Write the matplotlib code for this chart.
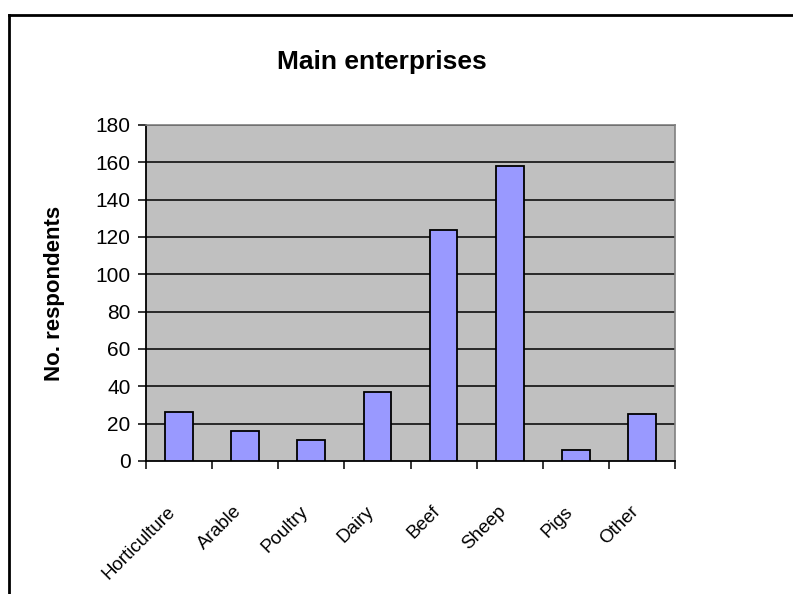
import matplotlib
matplotlib.use("Agg")
import matplotlib.pyplot as plt
from matplotlib.lines import Line2D
from matplotlib.transforms import ScaledTranslation
import numpy as np

# ── Data ──
categories = ["Horticulture", "Arable", "Poultry", "Dairy", "Beef", "Sheep", "Pigs", "Other"]
respondents = [26, 16, 11, 37, 124, 158, 6, 25]
y_ticks = list(range(0, 181, 20))

plt.rcParams['font.family'] = ['Liberation Sans', 'DejaVu Sans']

fig = plt.figure(figsize=(7.93, 5.94), dpi=100)
ax = fig.add_axes([146/793, 1 - 461/594, 529/793, 336/594])
ax.set_facecolor('#C0C0C0')

x = np.arange(len(categories))
ax.bar(x, respondents, width=0.42, color='#9999FF', edgecolor='black',
       linewidth=1.3, zorder=3)

# gridlines
for t in y_ticks[1:]:
    ax.axhline(t, color='black', linewidth=1.1, zorder=1)

ax.set_xlim(-0.5, len(categories) - 0.5)
ax.set_ylim(0, 180)
ax.set_yticks(y_ticks)
ax.tick_params(axis='y', labelsize=15, length=6, width=1.1, direction='out', pad=5)

# x ticks at category boundaries, labels at centres
ax.set_xticks(np.arange(-0.5, len(categories), 1.0))
ax.set_xticklabels([])
ax.set_xticks(x, minor=True)
ax.set_xticklabels(categories, minor=True, rotation=45, ha='right',
                   va='center', rotation_mode='anchor', fontsize=13.5)
ax.tick_params(axis='x', which='major', length=6, width=1.1, direction='out')
ax.tick_params(axis='x', which='minor', length=0, pad=0)
off = ScaledTranslation(-0.06, -0.48, fig.dpi_scale_trans)
for lab in ax.get_xticklabels(minor=True):
    lab.set_transform(lab.get_transform() + off)

for s in ['top', 'right']:
    ax.spines[s].set_color('#808080')
    ax.spines[s].set_linewidth(1.2)
for s in ['left', 'bottom']:
    ax.spines[s].set_color('black')
    ax.spines[s].set_linewidth(1.3)

ax.set_ylabel('No. respondents', fontsize=16, fontweight='bold', labelpad=22)

fig.text(382/793, 1 - 69/594, 'Main enterprises', ha='center', va='baseline',
         fontsize=19, fontweight='bold')

# chart frame (left and top edges visible)
fig.add_artist(Line2D([9/793, 9/793], [0, 1 - 15/594], color='black', linewidth=2))
fig.add_artist(Line2D([9/793, 1], [1 - 15/594, 1 - 15/594], color='black', linewidth=2))

fig.savefig('out.png', dpi=100, facecolor='white')
